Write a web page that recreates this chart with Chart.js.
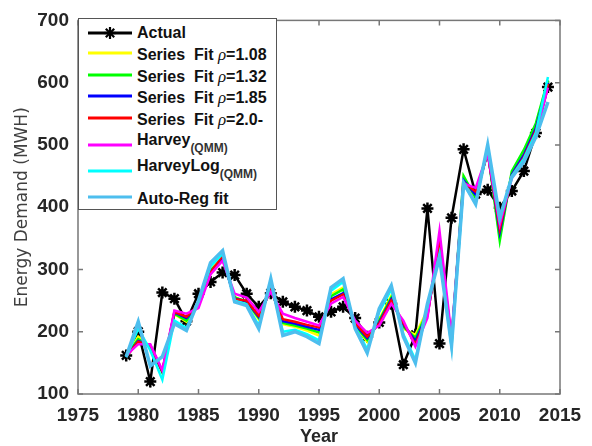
<!DOCTYPE html>
<html>
<head>
<meta charset="utf-8">
<script src="https://cdn.jsdelivr.net/npm/chart.js@4.4.0/dist/chart.umd.min.js"></script>
<style>
    html, body { margin: 0; padding: 0; background: #fff; }
    #wrap { position: relative; width: 592px; height: 446px; }
    #legend {
        position: absolute; left: 78px; top: 18px; width: 199px; height: 192px;
        background: #fff; border: 1px solid #555; box-sizing: border-box;
        font-family: "Liberation Sans", Arial, sans-serif; font-weight: bold; font-size: 16px; color: #111;
    }
    .row { position: absolute; left: 8px; height: 20px; display: flex; align-items: center; white-space: nowrap; }
    .row svg { margin-right: 4px; }
    .rho { font-family: "Liberation Serif", serif; font-style: italic; font-weight: normal; font-size: 17px; }
    sub { font-size: 12px; vertical-align: -7px; color: #333; }
</style>
</head>
<body>
<div id="wrap">
    <canvas id="chart" width="592" height="446"></canvas>
    <div id="legend"></div>
</div>
<script>
const years = [1979, 1980, 1981, 1982, 1983, 1984, 1985, 1986, 1987, 1988, 1989, 1990,
               1991, 1992, 1993, 1994, 1995, 1996, 1997, 1998, 1999, 2000, 2001, 2002,
               2003, 2004, 2005, 2006, 2007, 2008, 2009, 2010, 2011, 2012, 2013, 2014];

const actual = [162, 200, 120, 263, 253, 217, 261, 280, 295, 291, 261, 240,
                262, 248, 240, 234, 224, 232, 240, 222, 192, 215, 245, 147,
                195, 398, 181, 383, 493, 421, 428, 399, 426, 458, 519, 593];

const fitRho108 = [161, 192, 176, 134, 228, 216, 246, 300, 318, 256, 247, 220,
                   272, 212, 208, 202, 194, 260, 271, 208, 184, 220, 258, 205,
                   195, 235, 330, 180, 448, 412, 492, 352, 456, 490, 532, 602];

const fitRho132 = [161, 188, 177, 135, 229, 218, 245, 298, 318, 255, 248, 222,
                   270, 214, 210, 205, 199, 257, 268, 210, 187, 218, 255, 208,
                   190, 232, 335, 183, 450, 415, 490, 346, 458, 492, 535, 604];

const fitRho185 = [160, 185, 178, 136, 231, 222, 242, 296, 318, 253, 249, 224,
                   268, 217, 213, 208, 203, 252, 262, 212, 190, 215, 252, 212,
                   185, 228, 340, 185, 443, 420, 488, 360, 452, 484, 527, 600];

const fitRho20 = [160, 184, 178, 137, 232, 224, 243, 295, 322, 252, 250, 226,
                  267, 220, 216, 211, 207, 250, 260, 214, 192, 213, 250, 214,
                  180, 226, 345, 188, 440, 425, 487, 365, 450, 480, 523, 598];

const harvey = [162, 180, 180, 138, 234, 229, 238, 292, 314, 261, 255, 232,
                264, 229, 222, 216, 210, 245, 256, 218, 198, 210, 245, 218,
                176, 222, 362, 192, 438, 431, 486, 372, 447, 476, 518, 592];

const harveyLog = [159, 205, 170, 123, 218, 206, 248, 305, 325, 250, 244, 210,
                   280, 200, 203, 196, 186, 266, 280, 207, 172, 232, 268, 196,
                   155, 240, 325, 176, 436, 408, 497, 380, 450, 478, 520, 609];

const autoReg = [160, 216, 145, 160, 213, 202, 250, 311, 330, 248, 242, 205,
                 285, 194, 200, 192, 181, 271, 285, 205, 166, 237, 274, 192,
                 150, 245, 319, 178, 439, 405, 500, 383, 448, 473, 513, 569];

const xTicks = [1975, 1980, 1985, 1990, 1995, 2000, 2005, 2010, 2015];
const yTicks = [100, 200, 300, 400, 500, 600, 700];

const fits = [
    { name: 'Series Fit', rho: '1.08', data: fitRho108, color: '#ffff00' },
    { name: 'Series Fit', rho: '1.32', data: fitRho132, color: '#00ff00' },
    { name: 'Series Fit', rho: '1.85', data: fitRho185, color: '#0000ff' },
    { name: 'Series Fit', rho: '2.0-', data: fitRho20, color: '#ff0000' },
    { name: 'Harvey', sub: '(QMM)', data: harvey, color: '#ff00ff' },
    { name: 'HarveyLog', sub: '(QMM)', data: harveyLog, color: '#00ffff' },
    { name: 'Auto-Reg fit', data: autoReg, color: '#4dbeee' }
];

const toPoints = (values) => years.map((year, i) => ({ x: year, y: values[i] }));

const datasets = [{
    label: 'Actual',
    data: toPoints(actual),
    borderColor: '#000',
    backgroundColor: '#000',
    borderWidth: 2.5,
    pointStyle: 'star',
    pointRadius: 6,
    pointBorderWidth: 2.5,
    order: 10
}];

fits.forEach((fit, i) => {
    datasets.push({
        label: fit.name,
        data: toPoints(fit.data),
        borderColor: fit.color,
        borderWidth: i == 6 ? 3.5 : 2.5,
        pointRadius: 0,
        order: 8 - i
    });
});

// box round the plot with inward ticks on all four sides
const frameTicks = {
    id: 'frameTicks',
    afterDatasetsDraw(chart) {
        const { ctx, chartArea: a, scales: { x, y } } = chart;
        ctx.save();
        ctx.strokeStyle = '#777';
        ctx.lineWidth = 1.5;
        ctx.strokeRect(a.left, a.top, a.right - a.left, a.bottom - a.top);
        ctx.beginPath();
        for (const t of xTicks) {
            const px = x.getPixelForValue(t);
            ctx.moveTo(px, a.bottom); ctx.lineTo(px, a.bottom - 5);
            ctx.moveTo(px, a.top); ctx.lineTo(px, a.top + 5);
        }
        for (const t of yTicks) {
            const py = y.getPixelForValue(t);
            ctx.moveTo(a.left, py); ctx.lineTo(a.left + 5, py);
            ctx.moveTo(a.right, py); ctx.lineTo(a.right - 5, py);
        }
        ctx.stroke();
        ctx.restore();
    }
};

const tickFont = { family: '"Liberation Sans", Arial, sans-serif', size: 19, weight: 'bold' };

new Chart(document.getElementById('chart'), {
    type: 'line',
    data: { datasets },
    options: {
        responsive: false,
        animation: false,
        layout: { padding: { top: 18, right: 32, left: 0, bottom: 0 } },
        plugins: { legend: { display: false }, tooltip: { enabled: false } },
        scales: {
            x: {
                type: 'linear',
                min: 1975, max: 2015,
                afterBuildTicks: (s) => { s.ticks = xTicks.map(v => ({ value: v })); },
                afterFit: (s) => { s.height = 52; },
                ticks: { font: tickFont, color: '#262626', padding: 10, maxRotation: 0, callback: v => String(v) },
                grid: { display: false, drawTicks: false },
                border: { display: false },
                title: {
                    display: true, text: 'Year', color: '#262626',
                    font: { family: '"Liberation Sans", Arial, sans-serif', size: 18, weight: 'bold', lineHeight: 1 },
                    padding: { top: 0, bottom: 0 }
                }
            },
            y: {
                min: 100, max: 700,
                afterBuildTicks: (s) => { s.ticks = yTicks.map(v => ({ value: v })); },
                afterFit: (s) => { s.width = 78; },
                ticks: { font: tickFont, color: '#262626', padding: 9 },
                grid: { display: false, drawTicks: false },
                border: { display: false },
                title: {
                    display: true, text: 'Energy Demand (MWH)', color: '#404040',
                    font: { family: '"DejaVu Sans", sans-serif', size: 17 },
                    padding: { top: 12, bottom: 0 }
                }
            }
        }
    },
    plugins: [frameTicks]
});

// legend drawn as html so the subscripts stay real text; centres of each row in page pixels
const legendCentres = [33, 55, 77, 98, 120, 143, 169, 199];
const legend = document.getElementById('legend');
const sample = (color, width, marker) => `
    <svg width="46" height="14" viewBox="0 0 46 14">
        <line x1="1" y1="7" x2="45" y2="7" stroke="${color}" stroke-width="${width}"/>
        ${marker ? `<g stroke="#000" stroke-width="2.2">
            <line x1="17" y1="7" x2="29" y2="7"/><line x1="23" y1="1" x2="23" y2="13"/>
            <line x1="18.8" y1="2.8" x2="27.2" y2="11.2"/><line x1="18.8" y1="11.2" x2="27.2" y2="2.8"/></g>` : ''}
    </svg>`;

let html = `<div class="row" style="top:${legendCentres[0] - 18 - 11}px">${sample('#000', 3, true)}<span>Actual</span></div>`;
fits.forEach((fit, i) => {
    let text = fit.name;
    if (fit.rho) text = `Series&nbsp;&nbsp;Fit <span class="rho">&rho;</span>=${fit.rho}`;
    if (fit.sub) text = `${fit.name}<sub>${fit.sub}</sub>`;
    const sampleShift = fit.sub ? 'style="margin-top:8px"' : '';
    html += `<div class="row" style="top:${legendCentres[i + 1] - 18 - 11}px"><span ${sampleShift}>${sample(fit.color, 3, false)}</span><span>${text}</span></div>`;
});
legend.innerHTML = html;
</script>
</body>
</html>
